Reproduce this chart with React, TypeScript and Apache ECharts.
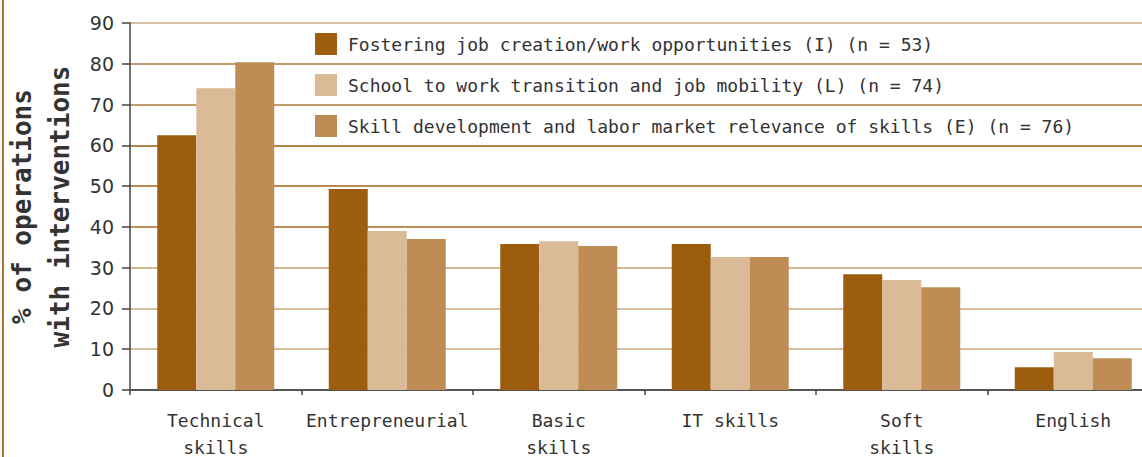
import React, { useEffect, useRef } from "react";
import * as echarts from "echarts";

const categories = ["Technical\nskills", "Entrepreneurial", "Basic\nskills", "IT skills", "Soft\nskills", "English"];
const seriesNames = [
  "Fostering job creation/work opportunities (I) (n = 53)",
  "School to work transition and job mobility (L) (n = 74)",
  "Skill development and labor market relevance of skills (E) (n = 76)",
];
const fostering = [62.5, 49.3, 35.8, 35.8, 28.4, 5.6];
const schoolToWork = [74.0, 39.0, 36.5, 32.6, 27.0, 9.3];
const skillDev = [80.4, 37.0, 35.3, 32.6, 25.2, 7.8];
const colors = ["#9c5e0e", "#dbbb97", "#bf8c55"];
const gridColors = ["#555555", "#c9a87f", "#c9a87f", "#c4a070", "#a86a20", "#a0621a", "#9c5e10", "#b07a3a", "#b07a3a", "#c8a880"];

const mono = "'DejaVu Sans Mono', monospace";

export default function App() {
  const ref = useRef<HTMLDivElement>(null);
  useEffect(() => {
    const chart = echarts.init(ref.current!, null, { renderer: "svg" });
    const data = [fostering, schoolToWork, skillDev];
    chart.setOption({
      animation: false,
      backgroundColor: "#ffffff",
      grid: { left: 130, top: 23, height: 367, width: 1029, containLabel: false, outerBoundsMode: "none" },
      legend: {
        orient: "vertical",
        left: 315,
        top: 33,
        padding: 0,
        itemWidth: 22,
        itemHeight: 22,
        itemGap: 19,
        icon: "rect",
        textStyle: { fontFamily: mono, fontSize: 18, color: "#333333", padding: [0, 0, 0, 6] },
        data: seriesNames,
      },
      xAxis: {
        type: "category",
        data: categories,
        axisLine: { lineStyle: { color: "#555555", width: 2 } },
        axisTick: { show: true, length: 5, lineStyle: { color: "#444444", width: 1.5 } },
        axisLabel: { interval: 0, fontFamily: mono, fontSize: 18, color: "#333333", margin: 17, lineHeight: 27 },
      },
      yAxis: {
        type: "value",
        min: 0,
        max: 90,
        interval: 10,
        name: "% of operations\nwith interventions",
        nameLocation: "middle",
        nameMoveOverlap: false,
        nameGap: 51,
        nameTextStyle: { fontFamily: mono, fontSize: 26, fontWeight: "bold", color: "#333333", lineHeight: 38 },
        axisLine: { show: true, lineStyle: { color: "#444444", width: 1.5 } },
        axisTick: { show: true, length: 8, lineStyle: { color: "#444444", width: 1.5 } },
        axisLabel: { fontFamily: "'DejaVu Sans', sans-serif", fontSize: 19, color: "#333333", margin: 16 },
        splitLine: { show: true, lineStyle: { color: gridColors, width: 1.5 } },
      },
      series: seriesNames.map((name, i) => ({
        name,
        type: "bar",
        data: data[i],
        barWidth: 39,
        barGap: "0%",
        itemStyle: { color: colors[i] },
      })),
      graphic: [
        {
          type: "line",
          shape: { x1: 3, y1: 0, x2: 3, y2: 457 },
          style: { stroke: "#b8732a", lineWidth: 2 },
        },
      ],
    });
    return () => chart.dispose();
  }, []);
  return <div ref={ref} style={{ position: "absolute", left: 0, top: 0, width: 1142, height: 457 }} />;
}
